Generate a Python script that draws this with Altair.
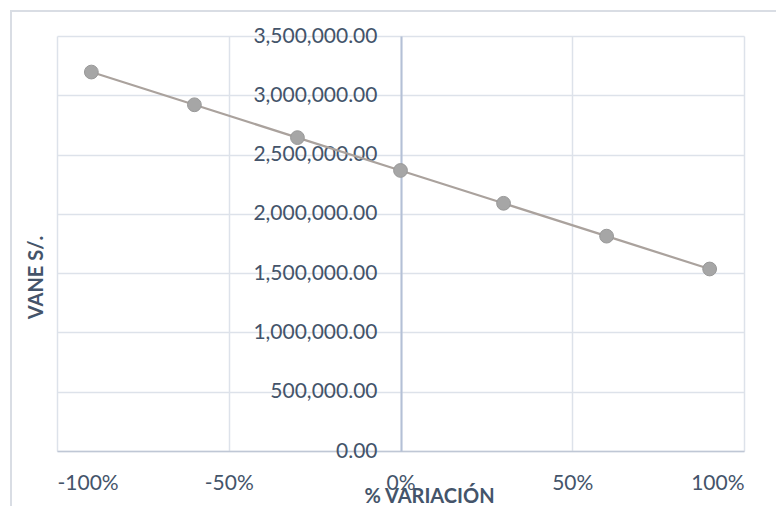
import altair as alt
import pandas as pd

variacion = [-0.9, -0.6, -0.3, 0.0, 0.3, 0.6, 0.9]
vane = [3196000, 2920000, 2643000, 2366000, 2089000, 1812000, 1535000]
x_ticks = [-1.0, -0.5, 0.0, 0.5, 1.0]
y_ticks = [0, 500000, 1000000, 1500000, 2000000, 2500000, 3000000, 3500000]

df = pd.DataFrame({"variacion": variacion, "vane": vane})

FONT = "Lato"
TXT = "#44546a"
GRID = "#dde2ea"

x_enc = alt.X(
    "variacion:Q",
    scale=alt.Scale(domain=[-1, 1], nice=False, zero=False),
    axis=alt.Axis(
        values=x_ticks,
        format=".0%",
        labelExpr="replace(datum.label, '\u2212', '-')",
        title="% VARIACIÓN",
        titleFont=FONT,
        titleFontSize=20,
        titleFontWeight="bold",
        titleColor=TXT,
        titleX=372,
        titleY=45,
        titleAnchor="start",
        titleAlign="center",
        titleBaseline="middle",
        labelFont=FONT,
        labelFontSize=21,
        labelColor=TXT,
        labelBaseline="middle",
        labelPadding=32,
        ticks=False,
        domainColor="#bfc7d5",
        domainWidth=1.5,
        grid=True,
        gridColor=GRID,
        gridWidth=1.5,
    ),
)

y_enc = alt.Y(
    "vane:Q",
    scale=alt.Scale(domain=[0, 3500000], nice=False),
    axis=alt.Axis(
        values=y_ticks,
        format=",.2f",
        offset=-344,
        title="VANE S/.",
        titleFont=FONT,
        titleFontSize=20,
        titleFontWeight="bold",
        titleColor=TXT,
        titleX=-365,
        titleY=241,
        titleAngle=-90,
        titleAnchor="start",
        titleAlign="center",
        titleBaseline="middle",
        labelFont=FONT,
        labelFontSize=21,
        labelColor=TXT,
        labelPadding=24,
        ticks=False,
        domainColor="#b4c0d6",
        domainWidth=2,
        grid=True,
        gridColor=GRID,
        gridWidth=1.5,
    ),
)

border = alt.Chart(df).mark_rect(
    fillOpacity=0, stroke="#d9dde3", strokeWidth=1.5
).encode(
    x=alt.value(-46), x2=alt.value(760), y=alt.value(-25), y2=alt.value(500)
)

line = alt.Chart(df).mark_line(color="#aaa29d", strokeWidth=2.2).encode(x=x_enc, y=y_enc)
pts = alt.Chart(df).mark_point(
    filled=True, size=190, fill="#a6a6a6", stroke="#999999", strokeWidth=1, opacity=1
).encode(x="variacion:Q", y="vane:Q")

chart = (
    alt.layer(border, line, pts)
    .properties(
        width=687,
        height=415,
        autosize=alt.AutoSizeParams(type="none"),
        padding={"left": 57, "top": 36, "right": 32, "bottom": 55},
        background="white",
    )
    .configure_view(strokeWidth=0)
)

chart.save("out.html", embed_options={"renderer": "svg", "actions": False})
